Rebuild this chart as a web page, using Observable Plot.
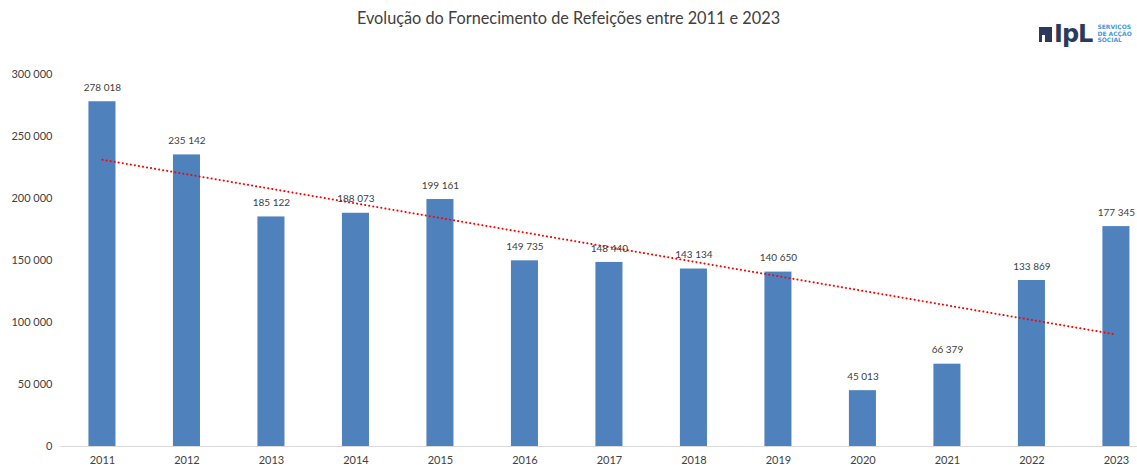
<!DOCTYPE html>
<html>
<head>
<meta charset="utf-8">
<script src="https://cdn.jsdelivr.net/npm/d3@7"></script>
<script src="https://cdn.jsdelivr.net/npm/@observablehq/plot@0.6"></script>
<style>
  html, body { margin: 0; padding: 0; background: #fff; }
  body { width: 1137px; height: 470px; position: relative; overflow: hidden; font-family: Lato, "Open Sans", sans-serif; }
  #title { height: 40px; line-height: 36px; text-align: center; font-size: 16.3px; color: #404040; }
  #logo { position: absolute; left: 1039px; top: 22px; display: flex; align-items: center; }
  #logo .icon { width: 13px; height: 15px; background: #2b3a5c; margin-right: 2px; position: relative; }
  #logo .icon::after { content: ""; position: absolute; left: 3px; bottom: 0; width: 3px; height: 7px; background: #fff; }
  #logo .ipl { font-family: "DejaVu Sans", sans-serif; font-weight: bold; font-size: 24px; color: #2b3a5c; letter-spacing: -1px; line-height: 24px; }
  #logo .sas { font-family: "DejaVu Sans", sans-serif; font-weight: bold; font-size: 6px; line-height: 6.8px; color: #4a9ad4; margin-left: 5px; }
</style>
</head>
<body>
<div id="title">Evolução do Fornecimento de Refeições entre 2011 e 2023</div>
<div id="logo"><div class="icon"></div><div class="ipl">IpL</div><div class="sas">SERVIÇOS<br>DE ACÇÃO<br>SOCIAL</div></div>
<div id="chart"></div>
<script>
const years = ["2011","2012","2013","2014","2015","2016","2017","2018","2019","2020","2021","2022","2023"];
const meals = [278018, 235142, 185122, 188073, 199161, 149735, 148440, 143134, 140650, 45013, 66379, 133869, 177345];
const yTicks = [0, 50000, 100000, 150000, 200000, 250000, 300000];

const loc = d3.formatLocale({decimal: ",", thousands: " ", grouping: [3], currency: ["", "€"]});
const fmt = loc.format(",d");

const data = years.map((y, i) => ({year: y, value: meals[i], idx: i}));

// linear trend (least squares) computed from the data
const mx = d3.mean(data, d => d.idx), my = d3.mean(data, d => d.value);
const slope = d3.sum(data, d => (d.idx - mx) * (d.value - my)) / d3.sum(data, d => (d.idx - mx) ** 2);
const trend = data.map(d => ({year: d.year, value: my + slope * (d.idx - mx)}));

const chart = Plot.plot({
  width: 1137,
  height: 430,
  marginLeft: 60,
  marginRight: 0,
  marginTop: 34,
  marginBottom: 24,
  style: {fontFamily: "Lato, 'Open Sans', sans-serif", fontSize: "11px", color: "#404040", background: "#fff"},
  x: {domain: years, paddingInner: 0.68, paddingOuter: 0.213, align: 0.79, round: false, label: null},
  y: {domain: [0, 300000], ticks: yTicks, label: null},
  marks: [
    Plot.barY(data, {x: "year", y: "value", fill: "#4f81bd"}),
    Plot.ruleY([0], {stroke: "#d9d9d9", strokeWidth: 1}),
    Plot.line(trend, {x: "year", y: "value", stroke: "#ff0000", strokeWidth: 2, strokeDasharray: "0.1 4", strokeLinecap: "round"}),
    Plot.text(data, {x: "year", y: "value", text: d => fmt(d.value), dy: -14, fontSize: 10, fill: "#404040"}),
    Plot.axisY(yTicks, {tickSize: 0, tickPadding: 8, tickFormat: fmt, fontSize: 11, fill: "#404040"}),
    Plot.axisX({tickSize: 0, tickPadding: 10, fontSize: 11, fill: "#404040"})
  ]
});
document.getElementById("chart").appendChild(chart);
</script>
</body>
</html>
